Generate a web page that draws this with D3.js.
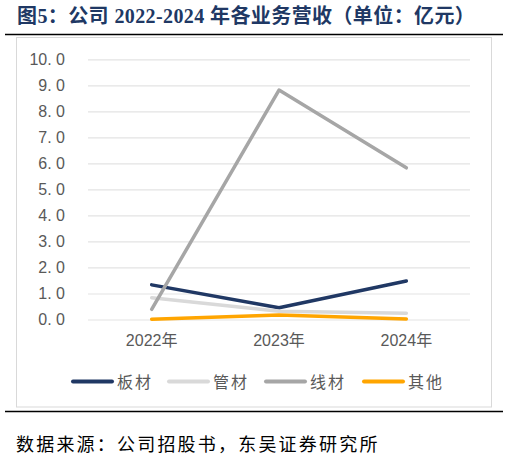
<!DOCTYPE html>
<html>
<head>
<meta charset="utf-8">
<script src="https://cdn.jsdelivr.net/npm/d3@7"></script>
<style>
  body { margin: 0; background: #fff; }
  svg { display: block; }
</style>
</head>
<body>
<div id="grafico"></div>
<script>
// dados (亿元)
const anos = ['2022年', '2023年', '2024年'];
const series = ['板材', '管材', '线材', '其他'];
const banCai = [1.33, 0.45, 1.48];
const guanCai = [0.84, 0.32, 0.24];
const xianCai = [0.39, 8.82, 5.83];
const qiTa = [0.01, 0.17, 0.02];
const ticksY = [0, 1, 2, 3, 4, 5, 6, 7, 8, 9, 10];

const valores = [banCai, guanCai, xianCai, qiTa];
const cores = ['#203864', '#D9D9D9', '#A6A6A6', '#FFA500'];

const W = 509, H = 459;
const svg = d3.select('#grafico').append('svg')
    .attr('width', W)
    .attr('height', H);

// título
svg.append('text')
    .attr('x', 17)
    .attr('y', 23)
    .attr('fill', '#203864')
    .attr('font-family', '"Liberation Serif", "Noto Sans CJK SC", serif')
    .attr('font-weight', 'bold')
    .attr('font-size', 20)
    .attr('letter-spacing', 0.4)
    .text('图5：公司 2022-2024 年各业务营收（单位：亿元）');

// linhas pretas
svg.append('line').attr('x1', 5).attr('x2', 503).attr('y1', 34.5).attr('y2', 34.5)
    .attr('stroke', '#000').attr('stroke-width', 1.6);
svg.append('line').attr('x1', 5).attr('x2', 503).attr('y1', 411.5).attr('y2', 411.5)
    .attr('stroke', '#000').attr('stroke-width', 1.6);

// moldura do gráfico
svg.append('rect')
    .attr('x', 16.5).attr('y', 37.5)
    .attr('width', 475).attr('height', 369.5)
    .attr('fill', '#fff')
    .attr('stroke', '#D9D9D9');

// escalas
const x = d3.scaleBand().domain(anos).range([88, 470]);
const y = d3.scaleLinear().domain([0, 10]).range([319.5, 59.3]);

// eixo Y + grade
const eixoY = svg.append('g')
    .attr('transform', 'translate(88,0)')
    .call(d3.axisLeft(y)
        .tickValues(ticksY)
        .tickSize(-(470 - 88))
        .tickPadding(23)
        .tickFormat(d => d.toFixed(1).replace('.', '. ')));
eixoY.select('.domain').remove();
eixoY.selectAll('.tick line').attr('stroke', '#E3E3E3').attr('stroke-width', 1.2);
eixoY.selectAll('.tick text')
    .attr('fill', '#595959')
    .attr('font-family', '"Liberation Sans", Arial, sans-serif')
    .attr('font-size', 16);

// eixo X
const eixoX = svg.append('g')
    .attr('transform', 'translate(0,319.5)')
    .call(d3.axisBottom(x).tickSize(0).tickPadding(15));
eixoX.select('.domain').remove();
eixoX.selectAll('.tick text')
    .attr('fill', '#595959')
    .attr('font-family', '"Liberation Sans", "Noto Sans CJK SC", sans-serif')
    .attr('font-size', 16);

// linhas das séries
const linha = d3.line()
    .x((d, i) => x(anos[i]) + x.bandwidth() / 2)
    .y(d => y(d));

valores.forEach((v, k) => {
    svg.append('path')
        .datum(v)
        .attr('d', linha)
        .attr('fill', 'none')
        .attr('stroke', cores[k])
        .attr('stroke-width', 3.5)
        .attr('stroke-linecap', 'round')
        .attr('stroke-linejoin', 'round');
});

// legenda
const legX = [73, 169, 266, 364];
const leg = svg.append('g');
series.forEach((s, k) => {
    leg.append('line')
        .attr('x1', legX[k]).attr('x2', legX[k] + 39)
        .attr('y1', 381.5).attr('y2', 381.5)
        .attr('stroke', cores[k])
        .attr('stroke-width', 4)
        .attr('stroke-linecap', 'round');
    leg.append('text')
        .attr('x', legX[k] + 44)
        .attr('y', 387.5)
        .attr('fill', '#595959')
        .attr('font-family', '"Noto Sans CJK SC", sans-serif')
        .attr('font-size', 16)
        .attr('letter-spacing', 2)
        .text(s);
});

// fonte
svg.append('text')
    .attr('x', 16)
    .attr('y', 451)
    .attr('fill', '#000')
    .attr('font-family', '"Noto Sans CJK SC", sans-serif')
    .attr('font-size', 18)
    .attr('letter-spacing', 2.2)
    .text('数据来源：公司招股书，东吴证券研究所');
</script>
</body>
</html>
